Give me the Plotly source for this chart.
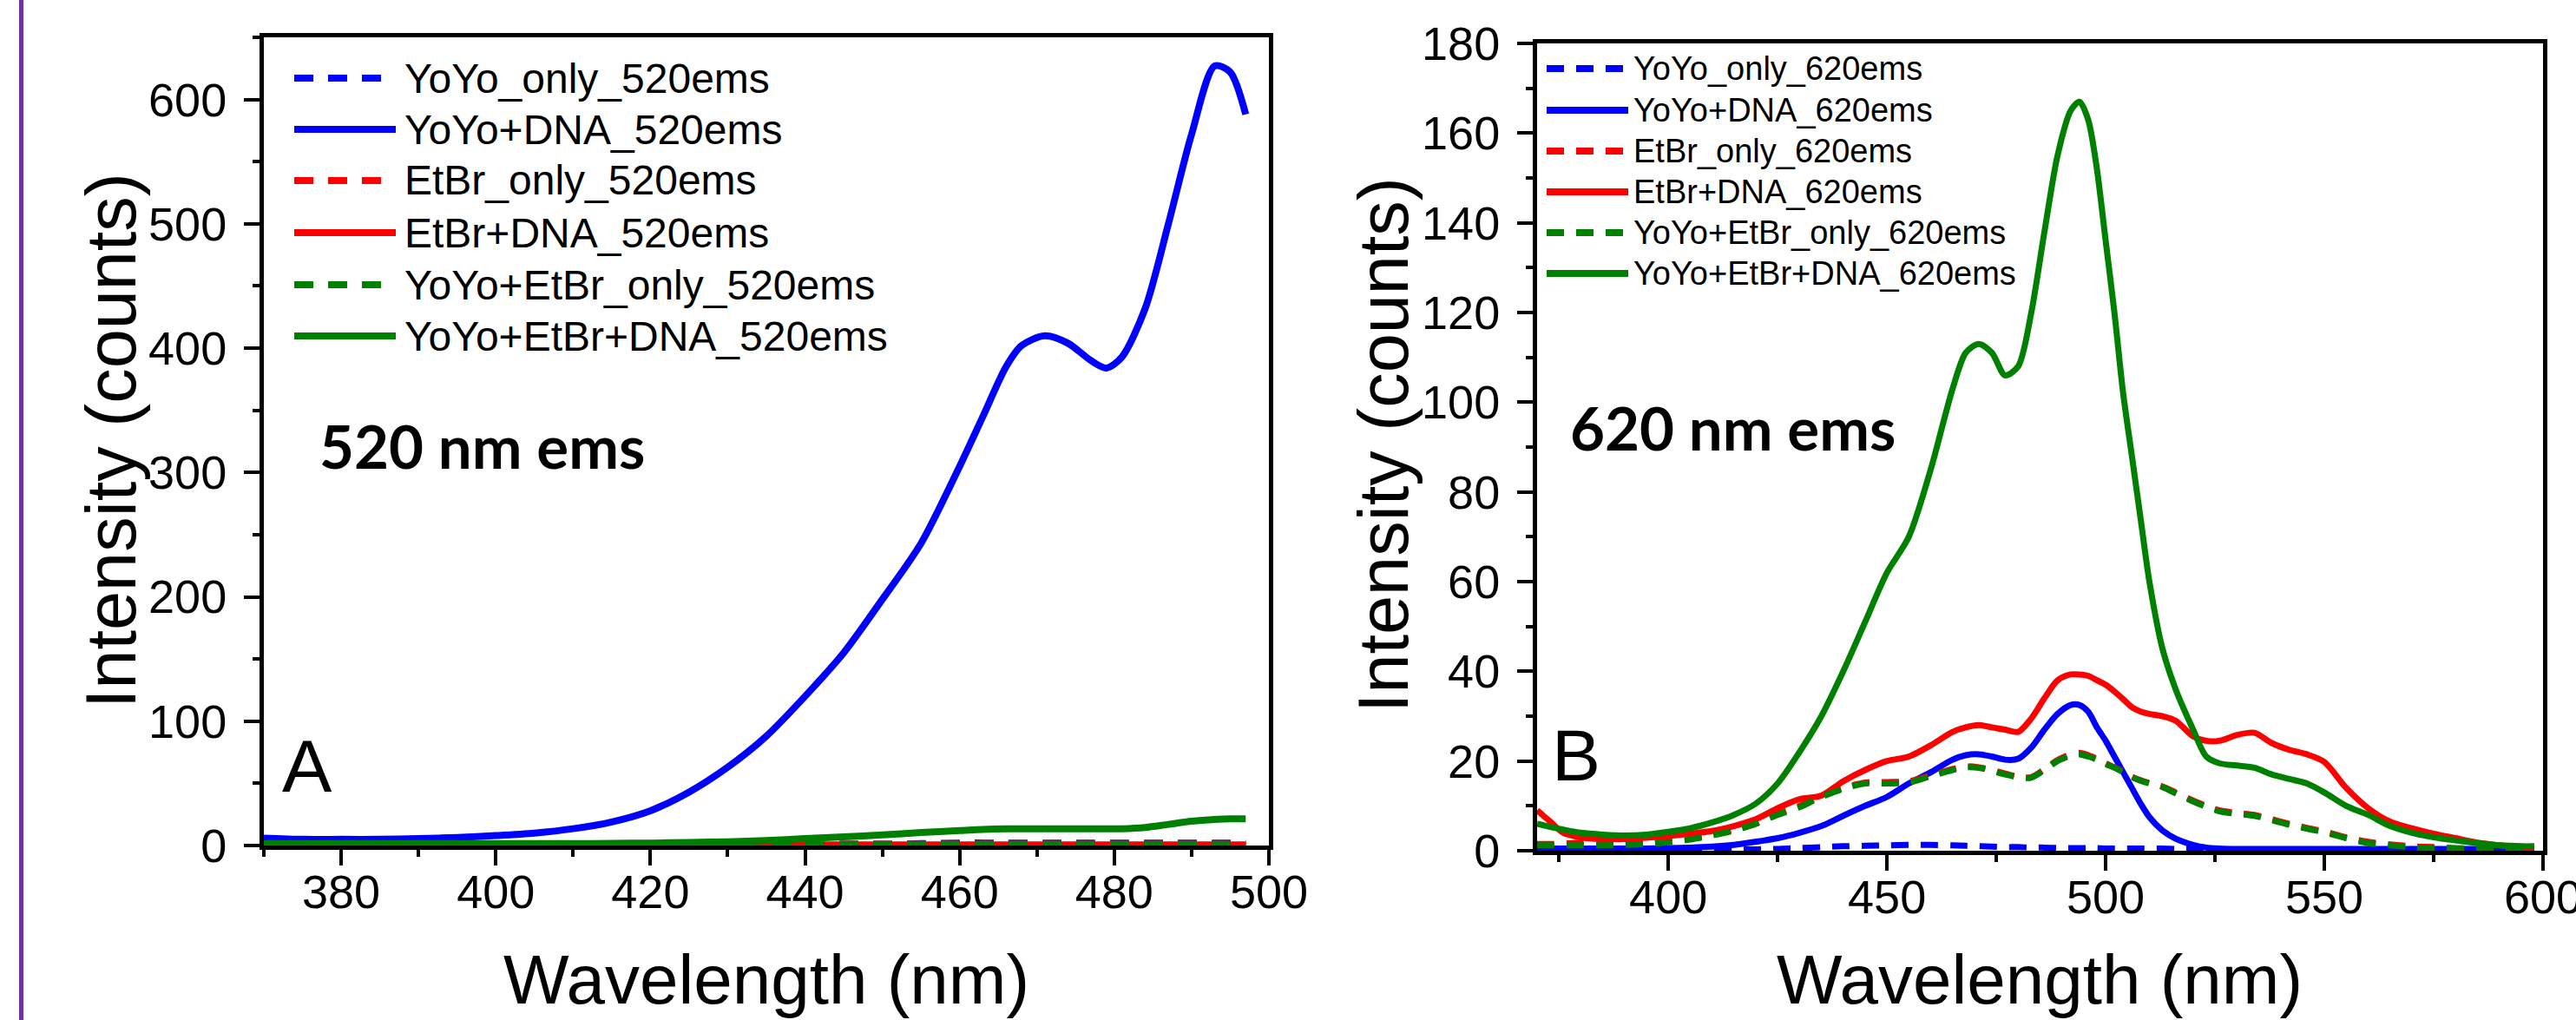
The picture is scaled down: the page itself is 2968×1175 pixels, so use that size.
import plotly.graph_objects as go

# ---------------- data: panel A (520 nm emission) ----------------
WL_A = [370, 375, 380, 385, 390, 395, 400, 405, 410, 415, 420, 425, 430, 435, 440, 445, 450,
        455, 460, 463, 466, 468, 471, 474, 477, 479, 481, 484, 487, 490, 493, 495, 497]
YOYO_ONLY_520 = [1, 1, 1, 1, 1, 1, 1, 1, 1, 1, 1, 1, 1, 1, 1, 1, 1,
                 1.5, 2, 2, 2, 2, 2, 2, 2, 2, 2, 2, 2, 2, 2, 2, 2]
YOYO_DNA_520 = [6, 5, 5, 5, 5.5, 6.5, 8, 10, 13.5, 19, 28, 43, 63, 88, 120, 155, 198,
                243, 305, 345, 385, 402, 410, 404, 390, 384, 393, 432, 500, 572, 627, 622, 588]
ETBR_ONLY_520 = [0.5, 0.5, 0.5, 0.5, 0.5, 0.5, 0.5, 0.5, 0.5, 0.5, 0.5, 0.5, 0.5, 0.5, 1, 1, 1,
                 1, 1, 1, 1, 1, 1, 1, 1, 1, 1, 1, 1, 1, 1, 1, 1]
ETBR_DNA_520 = [0.5, 0.5, 0.5, 0.5, 0.5, 0.5, 0.5, 0.5, 0.5, 0.5, 0.5, 0.5, 0.5, 0.5, 0.5, 0.5, 0.5,
                0.5, 0.5, 0.5, 0.5, 0.5, 0.5, 0.5, 0.5, 0.5, 0.5, 0.5, 0.5, 0.5, 0.5, 0.5, 0.5]
YYEB_ONLY_520 = [0.8, 0.8, 0.8, 0.8, 0.8, 0.8, 0.8, 0.8, 0.8, 0.8, 0.8, 0.8, 0.8, 0.8, 0.8, 0.8, 0.8,
                 0.8, 0.8, 0.8, 0.8, 0.8, 0.8, 0.8, 0.8, 0.8, 0.8, 0.8, 0.8, 0.8, 0.8, 0.8, 0.8]
YYEB_DNA_520 = [1.5, 1.5, 1.5, 1.5, 1.5, 1.5, 1.5, 1.5, 1.5, 1.8, 2, 2.5, 3, 4, 5.5, 7, 8.5,
                10.5, 12, 13, 13.5, 13.5, 13.5, 13.5, 13.5, 13.5, 13.5, 14.5, 17, 19.5, 21, 21.5, 21.5]

# ---------------- data: panel B (620 nm emission) ----------------
WL_B = [370, 373, 376, 380, 385, 390, 395, 400, 405, 410,
        415, 420, 425, 430, 435, 440, 445, 450, 455, 460,
        465, 468, 471, 474, 477, 480, 483, 486, 489, 492,
        494, 496, 498, 500, 502, 504, 506, 508, 510, 513,
        516, 520, 523, 526, 530, 534, 538, 542, 546, 550,
        555, 560, 565, 570, 575, 580, 585, 590, 595, 598]
YOYO_ONLY_620 = [0.3, 0.3, 0.3, 0.3, 0.3, 0.3, 0.3, 0.3, 0.3, 0.3,
                 0.3, 0.3, 0.4, 0.6, 0.8, 1, 1.1, 1.2, 1.3, 1.3,
                 1.2, 1.1, 1, 0.9, 0.8, 0.8, 0.7, 0.7, 0.6, 0.6,
                 0.6, 0.6, 0.6, 0.5, 0.5, 0.5, 0.5, 0.5, 0.5, 0.5,
                 0.4, 0.3, 0.3, 0.3, 0.3, 0.3, 0.3, 0.3, 0.3, 0.3,
                 0.3, 0.3, 0.3, 0.3, 0.3, 0.3, 0.3, 0.3, 0.3, 0.3]
YOYO_DNA_620 = [0.5, 0.5, 0.5, 0.5, 0.5, 0.5, 0.5, 0.6, 0.7, 0.9,
                1.3, 2, 2.8, 4, 5.5, 7.8, 10, 12, 15, 17.5,
                20.3, 21.3, 21.5, 21, 20.3, 20.5, 23, 27, 30.5, 32.5,
                32.5, 31, 27.5, 24.5, 21, 17.5, 14, 10.5, 7.5, 4.5,
                2.7, 1.3, 0.7, 0.5, 0.4, 0.4, 0.4, 0.4, 0.4, 0.4,
                0.4, 0.4, 0.4, 0.4, 0.4, 0.4, 0.4, 0.4, 0.4, 0.4]
ETBR_ONLY_620 = [1.5, 1.5, 1.6, 1.8, 2, 2.2, 2.4, 2.7, 3, 3.6,
                 4.6, 6, 8.2, 10, 12.2, 14, 15.2, 15.3, 15.5, 16.8,
                 18.2, 18.8, 18.6, 18, 17.2, 16.5, 16.4, 18.2, 20.2, 21.5,
                 21.8, 21.3, 20.5, 19.5, 18.6, 17.6, 16.5, 15.7, 15.1, 14.3,
                 13, 11.2, 10, 9, 8.4, 8, 7, 6, 5.1, 4.3,
                 3, 2, 1.4, 1, 0.8, 0.6, 0.5, 0.4, 0.4, 0.4]
ETBR_DNA_620 = [9, 6.5, 4, 3, 2.6, 2.6, 2.9, 3.3, 3.8, 4.4,
                5.5, 7, 9.5, 11.5, 12.3, 15.5, 18, 20, 21, 23.5,
                26.5, 27.5, 28, 27.5, 27, 26.5, 29.5, 34, 38, 39.3,
                39.3, 39, 38, 37, 35.5, 33.8, 32, 31, 30.5, 30,
                29, 25.5, 24.5, 24.5, 25.8, 26.3, 24, 22.5, 21.5, 19.8,
                14, 9.5, 6.5, 5, 3.8, 2.8, 1.8, 1.2, 0.7, 0.5]
YYEB_ONLY_620 = [1.2, 1.2, 1.2, 1.2, 1.2, 1.3, 1.5, 1.9, 2.5, 3.4,
                 4.5, 6, 8, 9.7, 12, 13.8, 15, 15, 15.2, 16.6,
                 18, 18.6, 18.5, 17.8, 17, 16.4, 16.3, 18, 20, 21.2,
                 21.5, 21, 20.3, 19.3, 18.5, 17.5, 16.4, 15.6, 15, 14.2,
                 12.8, 11, 9.8, 8.8, 8.2, 7.8, 6.8, 5.8, 4.9, 4.1,
                 2.8, 1.7, 1.2, 0.8, 0.6, 0.5, 0.4, 0.4, 0.4, 0.4]
YYEB_DNA_620 = [6, 5.3, 4.7, 4, 3.6, 3.4, 3.6, 4.2, 5, 6.3,
                8, 10.5, 15, 22, 30, 40, 51, 62, 70, 85,
                103, 111, 113, 111, 106, 108, 120, 138, 155, 165,
                167, 163, 152, 136, 120, 102, 88, 74, 60, 45,
                36, 27, 21, 19.5, 19, 18.5, 17, 16, 15, 13,
                10, 8, 5.5, 4, 3, 2.3, 1.7, 1.2, 1, 1]

NAMES_A = ["YoYo_only_520ems", "YoYo+DNA_520ems", "EtBr_only_520ems",
           "EtBr+DNA_520ems", "YoYo+EtBr_only_520ems", "YoYo+EtBr+DNA_520ems"]
NAMES_B = ["YoYo_only_620ems", "YoYo+DNA_620ems", "EtBr_only_620ems",
           "EtBr+DNA_620ems", "YoYo+EtBr_only_620ems", "YoYo+EtBr+DNA_620ems"]
SERIES_A = [YOYO_ONLY_520, YOYO_DNA_520, ETBR_ONLY_520, ETBR_DNA_520, YYEB_ONLY_520, YYEB_DNA_520]
SERIES_B = [YOYO_ONLY_620, YOYO_DNA_620, ETBR_ONLY_620, ETBR_DNA_620, YYEB_ONLY_620, YYEB_DNA_620]

# ---------------- styles ----------------
W, H = 2968, 1175
COLORS = ["#0000FF", "#0000FF", "#FF0000", "#FF0000", "#008000", "#008000"]
DASHED = [True, False, True, False, True, False]
DASH_A = "22px,17px"
DASH_B = "20px,14px"
FONT = "Liberation Sans, Arial, sans-serif"


def px(x):
    return x / W


def py(y):
    return 1 - y / H


fig = go.Figure()

for i, (name, vals) in enumerate(zip(NAMES_A, SERIES_A)):
    fig.add_trace(go.Scatter(
        x=WL_A, y=vals, mode="lines", name=name, xaxis="x", yaxis="y",
        line=dict(color=COLORS[i], width=8, dash=DASH_A if DASHED[i] else "solid",
                  shape="spline", smoothing=0.8),
        showlegend=False))

for i, (name, vals) in enumerate(zip(NAMES_B, SERIES_B)):
    fig.add_trace(go.Scatter(
        x=WL_B, y=vals, mode="lines", name=name, xaxis="x2", yaxis="y2",
        line=dict(color=COLORS[i], width=7, dash=DASH_B if DASHED[i] else "solid",
                  shape="spline", smoothing=0.8),
        showlegend=False))

axis_common = dict(
    showline=True, linewidth=5, linecolor="black", mirror=True,
    ticks="outside", ticklen=18, tickwidth=4, tickcolor="black",
    showgrid=False, zeroline=False, automargin=False, ticklabeloverflow="allow",
    tickfont=dict(family=FONT, size=54, color="black"),
)

fig.update_layout(
    template="none",
    width=W, height=H,
    margin=dict(l=0, r=0, t=0, b=0, pad=0, autoexpand=False),
    paper_bgcolor="white", plot_bgcolor="white",
    showlegend=False,
    xaxis=dict(domain=[px(304), px(1462)], anchor="y", range=[370, 500],
               tick0=380, dtick=20, ticklabelstandoff=-16,
               minor=dict(ticks="outside", dtick=10, tick0=370, ticklen=8, tickwidth=4, tickcolor="black"),
               **axis_common),
    yaxis=dict(domain=[py(974), py(43)], anchor="x", range=[0, 650],
               tick0=0, dtick=100, ticklabelstandoff=9,
               minor=dict(ticks="outside", dtick=50, ticklen=8, tickwidth=4, tickcolor="black"),
               **axis_common),
    xaxis2=dict(domain=[px(1771), px(2930)], anchor="y2", range=[370, 600],
                tick0=400, dtick=50, ticklabelstandoff=-16,
                minor=dict(ticks="outside", dtick=25, tick0=375, ticklen=8, tickwidth=4, tickcolor="black"),
                **axis_common),
    yaxis2=dict(domain=[py(980), py(50)], anchor="x2", range=[0, 180],
                tick0=0, dtick=20, ticklabelstandoff=9,
                minor=dict(ticks="outside", dtick=10, ticklen=8, tickwidth=4, tickcolor="black"),
                **axis_common),
)

shapes = []
annotations = []

# purple rule at the left edge
shapes.append(dict(type="line", xref="paper", yref="paper", x0=px(24.5), x1=px(24.5), y0=0, y1=1,
                   line=dict(color="#7030A0", width=5)))

# manual legends
LEG_A_ROWS = [90, 149, 208, 268, 328, 387]
LEG_B_ROWS = [79, 127, 174, 221, 268, 315]
for i, name in enumerate(NAMES_A):
    y = LEG_A_ROWS[i]
    shapes.append(dict(type="line", xref="paper", yref="paper", x0=px(339), x1=px(456), y0=py(y), y1=py(y),
                       line=dict(color=COLORS[i], width=8, dash=DASH_A if DASHED[i] else "solid")))
    annotations.append(dict(x=px(464), y=py(y), xref="paper", yref="paper", text=name, showarrow=False,
                            xanchor="left", yanchor="middle", font=dict(family=FONT, size=48, color="black")))
for i, name in enumerate(NAMES_B):
    y = LEG_B_ROWS[i]
    shapes.append(dict(type="line", xref="paper", yref="paper", x0=px(1782), x1=px(1876), y0=py(y), y1=py(y),
                       line=dict(color=COLORS[i], width=8, dash=DASH_B if DASHED[i] else "solid")))
    annotations.append(dict(x=px(1880), y=py(y), xref="paper", yref="paper", text=name, showarrow=False,
                            xanchor="left", yanchor="middle", font=dict(family=FONT, size=38, color="black")))

# axis titles
for xc, yc in [(128, 508), (1594, 512)]:
    annotations.append(dict(x=px(xc), y=py(yc), xref="paper", yref="paper", text="Intensity (counts)",
                            showarrow=False, textangle=-90, xanchor="center", yanchor="middle",
                            font=dict(family=FONT, size=81, color="black")))
for xc in [883, 2350]:
    annotations.append(dict(x=px(xc), y=py(1128), xref="paper", yref="paper", text="Wavelength (nm)",
                            showarrow=False, xanchor="center", yanchor="middle",
                            font=dict(family=FONT, size=80, color="black")))

# panel texts
annotations.append(dict(x=px(555), y=py(513), xref="paper", yref="paper", text="<b>520 nm ems</b>",
                        showarrow=False, xanchor="center", yanchor="middle",
                        font=dict(family="Lato, Carlito, sans-serif", size=69, color="black")))
annotations.append(dict(x=px(1996), y=py(493), xref="paper", yref="paper", text="<b>620 nm ems</b>",
                        showarrow=False, xanchor="center", yanchor="middle",
                        font=dict(family="Lato, Carlito, sans-serif", size=69, color="black")))
annotations.append(dict(x=px(354), y=py(882), xref="paper", yref="paper", text="A",
                        showarrow=False, xanchor="center", yanchor="middle",
                        font=dict(family=FONT, size=86, color="black")))
annotations.append(dict(x=px(1816), y=py(870), xref="paper", yref="paper", text="B",
                        showarrow=False, xanchor="center", yanchor="middle",
                        font=dict(family=FONT, size=84, color="black")))

fig.update_layout(shapes=shapes, annotations=annotations)

fig.write_html("out.html")
